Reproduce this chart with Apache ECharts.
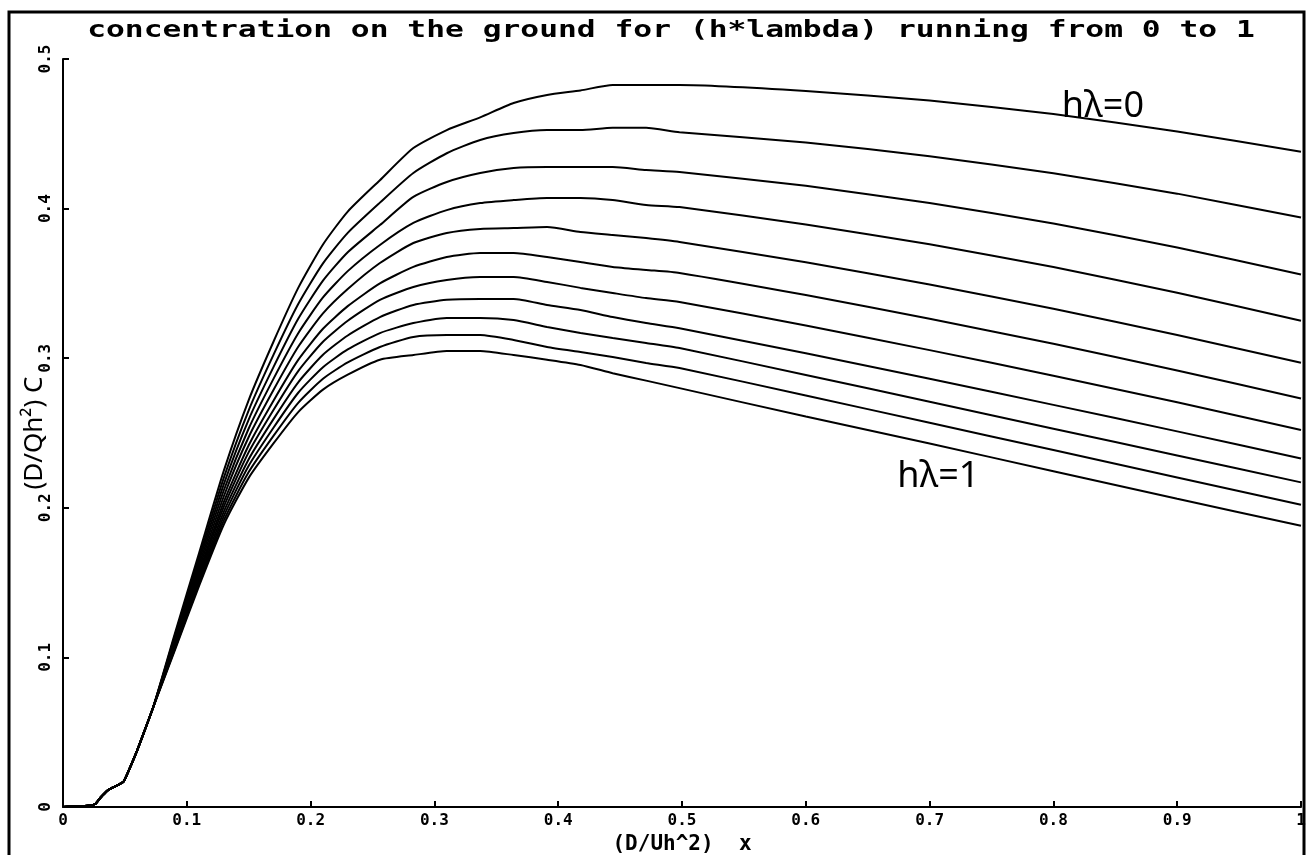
<!DOCTYPE html>
<html>
<head>
<meta charset="utf-8">
<script src="https://cdn.jsdelivr.net/npm/echarts@6/dist/echarts.min.js"></script>
<style>
  html, body { margin: 0; padding: 0; background: #fff; }
  #chart { width: 1312px; height: 855px; }
</style>
</head>
<body>
<div id="chart"></div>
<script>
// abscissa (D/Uh^2) x, shared by every curve
var xs = [0, 0.01, 0.02, 0.026, 0.03, 0.036, 0.04, 0.045, 0.049, 0.055, 0.06, 0.065, 0.073,
  0.09, 0.11, 0.13, 0.15, 0.17, 0.19, 0.21, 0.23, 0.256, 0.283, 0.31, 0.337, 0.364,
  0.391, 0.418, 0.444, 0.471, 0.498, 0.6, 0.7, 0.8, 0.9, 1.0];

// start of the curves, identical for all h*lambda
var head = [0, 0.0005, 0.0008, 0.002, 0.006, 0.011, 0.013, 0.015, 0.017, 0.028, 0.038, 0.049, 0.067];

// rest of each curve (from x = 0.09), h*lambda = 0, 0.1 ... 1
var c0 = [0.115, 0.170, 0.225, 0.272, 0.311, 0.347, 0.376, 0.398, 0.419, 0.4405, 0.4525, 0.461, 0.4706, 0.476, 0.479, 0.4826, 0.4826, 0.4826, 0.4786, 0.4722, 0.4632, 0.4516, 0.438];
var c1 = [0.1136, 0.1671, 0.2203, 0.2652, 0.3022, 0.3362, 0.3634, 0.3838, 0.404, 0.4238, 0.437, 0.4459, 0.4505, 0.4525, 0.4525, 0.454, 0.454, 0.451, 0.4442, 0.435, 0.4236, 0.410, 0.394];
var c2 = [0.1123, 0.1645, 0.216, 0.259, 0.294, 0.3263, 0.3518, 0.3708, 0.389, 0.4078, 0.4178, 0.4238, 0.4271, 0.4278, 0.4278, 0.4278, 0.4258, 0.4245, 0.4152, 0.4037, 0.390, 0.374, 0.356];
var c3 = [0.1110, 0.1620, 0.2119, 0.253, 0.2862, 0.3167, 0.3406, 0.3582, 0.3757, 0.3904, 0.399, 0.4037, 0.4057, 0.4071, 0.4071, 0.4057, 0.4024, 0.401, 0.3894, 0.3761, 0.3609, 0.3438, 0.325];
var c4 = [0.1098, 0.1596, 0.2079, 0.2473, 0.2787, 0.3076, 0.3299, 0.3462, 0.3636, 0.377, 0.3837, 0.3864, 0.387, 0.3877, 0.3844, 0.3824, 0.3803, 0.3777, 0.3641, 0.3492, 0.333, 0.3155, 0.297];
var c5 = [0.1086, 0.1572, 0.2041, 0.2418, 0.2716, 0.2989, 0.3197, 0.3348, 0.350, 0.361, 0.3676, 0.3703, 0.3703, 0.3676, 0.3643, 0.361, 0.359, 0.357, 0.3422, 0.3264, 0.3096, 0.2918, 0.273];
var c6 = [0.1076, 0.1553, 0.2009, 0.2372, 0.2654, 0.2914, 0.311, 0.325, 0.339, 0.3476, 0.3523, 0.3543, 0.3543, 0.351, 0.347, 0.3436, 0.3402, 0.3376, 0.3218, 0.3054, 0.2883, 0.2705, 0.252];
var c7 = [0.1066, 0.1533, 0.1976, 0.2325, 0.2593, 0.2839, 0.3023, 0.3152, 0.3275, 0.3356, 0.339, 0.3396, 0.3396, 0.3356, 0.3322, 0.3275, 0.3235, 0.320, 0.3033, 0.2862, 0.2688, 0.2511, 0.233];
var c8 = [0.1057, 0.1514, 0.1946, 0.2281, 0.2535, 0.2769, 0.294, 0.3059, 0.3168, 0.3235, 0.3269, 0.3269, 0.3255, 0.3209, 0.3168, 0.3135, 0.3102, 0.3068, 0.2888, 0.2709, 0.2529, 0.235, 0.217];
var c9 = [0.1048, 0.1497, 0.1917, 0.2239, 0.2481, 0.2702, 0.2863, 0.2972, 0.3075, 0.3142, 0.3155, 0.3155, 0.3122, 0.3075, 0.3041, 0.3008, 0.2968, 0.2934, 0.2751, 0.2568, 0.2386, 0.2203, 0.202];
var c10 = [0.104, 0.148, 0.189, 0.220, 0.243, 0.264, 0.279, 0.289, 0.299, 0.3021, 0.3048, 0.3048, 0.3021, 0.299, 0.2955, 0.290, 0.285, 0.280, 0.261, 0.243, 0.2244, 0.206, 0.188];

var curves = [c0, c1, c2, c3, c4, c5, c6, c7, c8, c9, c10];
var hlambda = ['0', '0.1', '0.2', '0.3', '0.4', '0.5', '0.6', '0.7', '0.8', '0.9', '1'];

var titleText = 'concentration on the ground for (h*lambda) running from 0 to 1';
var monoFont = '"DejaVu Sans Mono", "Liberation Mono", monospace';
var handFont = '"Noto Sans", "DejaVu Sans", sans-serif';

var chart = echarts.init(document.getElementById('chart'));

// build [x, y] pairs
var series = curves.map(function (tail, i) {
  var ys = head.concat(tail);
  return {
    name: 'h*lambda=' + hlambda[i],
    type: 'line',
    data: xs.map(function (x, j) { return [x, ys[j]]; }),
    showSymbol: false,
    smooth: 0.2,
    lineStyle: { color: '#000', width: 2 },
    silent: true
  };
});

// hand written notes on first and last curve
function note(text, coord) {
  return {
    symbol: 'circle',
    symbolSize: 0,
    silent: true,
    label: {
      show: true,
      position: 'inside',
      formatter: text,
      color: '#000',
      fontSize: 36,
      fontFamily: handFont
    },
    data: [{ coord: coord }]
  };
}
series[0].markPoint = note('hλ=0', [0.84, 0.468]);
series[10].markPoint = note('hλ=1', [0.707, 0.221]);

var option = {
  backgroundColor: '#fff',
  animation: false,
  grid: { left: 63, right: 11, top: 59, bottom: 48, outerBoundsMode: 'none' },
  xAxis: {
    type: 'value',
    min: 0,
    max: 1,
    interval: 0.1,
    name: '(D/Uh^2)  x',
    nameLocation: 'middle',
    nameGap: 27,
    nameMoveOverlap: false,
    nameTextStyle: { color: '#000', fontSize: 21, fontWeight: 'bold', fontFamily: monoFont },
    axisLine: { lineStyle: { color: '#000', width: 2 } },
    axisTick: { inside: true, length: 6, lineStyle: { color: '#000', width: 2 } },
    axisLabel: { color: '#000', fontSize: 16, fontWeight: 'bold', fontFamily: monoFont, margin: 6 },
    splitLine: { show: false }
  },
  yAxis: {
    type: 'value',
    min: 0,
    max: 0.5,
    interval: 0.1,
    name: '(D/Qh²) C',
    nameLocation: 'middle',
    nameRotate: 90,
    nameGap: 15,
    nameMoveOverlap: false,
    nameTextStyle: { color: '#000', fontSize: 26, fontFamily: handFont },
    axisLine: { lineStyle: { color: '#000', width: 2 } },
    axisTick: { inside: true, length: 6, lineStyle: { color: '#000', width: 2 } },
    axisLabel: { color: '#000', fontSize: 16, fontWeight: 'bold', fontFamily: monoFont, rotate: 90, margin: 9 },
    splitLine: { show: false }
  },
  graphic: [
    {
      type: 'rect',
      silent: true,
      shape: { x: 9, y: 12, width: 1295, height: 900 },
      style: { fill: 'none', stroke: '#000', lineWidth: 3 }
    },
    {
      type: 'text',
      silent: true,
      x: 671,
      y: 31,
      scaleX: 1.36,
      style: {
        text: titleText,
        font: 'bold 23px ' + monoFont,
        fill: '#000',
        align: 'center',
        verticalAlign: 'middle'
      }
    }
  ],
  series: series
};

chart.setOption(option);
</script>
</body>
</html>
